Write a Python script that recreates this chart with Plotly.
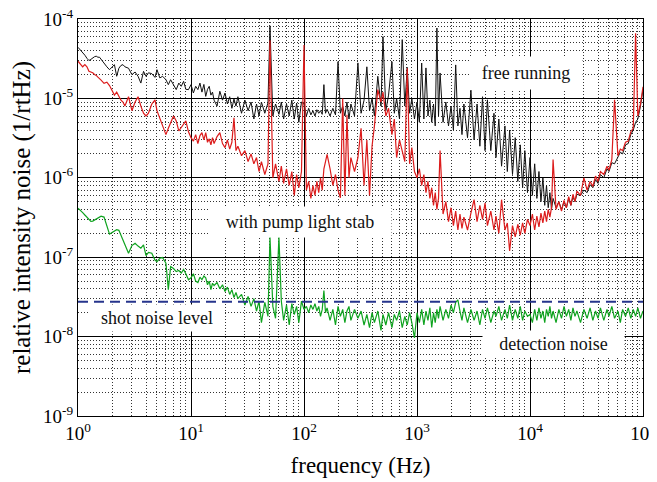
import numpy as np
import plotly.graph_objects as go

# sampling frequencies (Hz)
freq_hz = [
    1, 1.05, 1.1, 1.15, 1.2, 1.25, 1.3, 1.35, 1.4, 1.45, 1.5, 1.55, 1.6, 1.7, 1.8, 1.9, 2, 2.1, 2.2, 2.3, 2.4, 2.5, 2.6, 2.8, 3, 3.2, 3.4, 3.6, 3.8, 4, 4.2, 4.5, 4.8, 5, 5.3, 5.6, 6, 6.3, 6.6, 7, 7.4, 7.8, 8.2, 8.6, 9, 9.5,
    10, 10.5, 11, 11.5, 12, 12.5, 13, 13.5, 14, 14.5, 15, 15.5, 16, 17, 18, 19, 20, 21, 22, 23, 24, 25, 26, 28, 30, 32, 34, 36, 38, 40, 42, 45, 48, 50, 53, 56, 60, 63, 66, 70, 74, 78, 82, 86, 90, 95,
    100, 105, 110, 115, 120, 125, 130, 135, 140, 145, 150, 155, 160, 170, 180, 190, 200, 210, 220, 230, 240, 250, 260, 280, 300, 320, 340, 360, 380, 400, 420, 450, 480, 500, 530, 560, 600, 630, 660, 700, 740, 780, 820, 860, 900, 950,
    1000, 1050, 1100, 1150, 1200, 1250, 1300, 1350, 1400, 1450, 1500, 1550, 1600, 1700, 1800, 1900, 2000, 2100, 2200, 2300, 2400, 2500, 2600, 2800, 3000, 3200, 3400, 3600, 3800, 4000, 4200, 4500, 4800, 5000, 5300, 5600, 6000, 6300, 6600, 7000, 7400, 7800, 8200, 8600, 9000, 9500,
    10000, 10500, 11000, 11500, 12000, 12500, 13000, 13500, 14000, 14500, 15000, 15500, 16000, 17000, 18000, 19000, 20000, 21000, 22000, 23000, 24000, 25000, 26000, 28000, 30000, 32000, 34000, 36000, 38000, 40000, 42000, 45000, 48000, 50000, 53000, 56000, 60000, 63000, 66000, 70000, 74000, 78000, 82000, 86000, 90000, 95000,
    100000,
]

# free running RIN, in units of 1e-6 /rtHz
free_running_u = [
    44, 41, 38, 35, 32, 30, 31, 32.5, 33.5, 34, 33, 33, 31, 28, 25, 23, 24.5, 26.6, 19, 24, 26, 26.6, 25, 24, 19.9, 21.5, 19, 15.6, 21.9, 19, 21, 20.5, 18.4, 23, 18.1, 19, 17.2, 14.9, 17.2, 15, 12.9, 15.6, 14.2, 16.4, 13, 12.9,
    14.9, 11.7, 14.2, 12.9, 15.6, 12, 15, 10.6, 13, 14.2, 11, 12, 9.5, 8, 12.3, 9.5, 11.7, 8.5, 10.5, 7.5, 9.8, 8, 10.5, 6.5, 9.5, 7, 9, 5.5, 8.5, 6, 9, 6.5, 8.8, 82, 6, 8.5, 6.3, 9, 5.5, 8.5, 6, 9.5, 5.5, 8.7, 5, 9,
    8.5, 6, 7.5, 6.2, 7, 6, 7.2, 6.5, 7, 6.3, 14.9, 6.5, 7.3, 6, 7.5, 6.2, 29, 6.5, 8, 6, 9, 5.5, 8.5, 6, 28, 6.5, 9.5, 25, 7, 10, 6, 19, 8, 60, 7, 11, 29, 6.5, 10, 5.5, 55, 8, 24.6, 6.5, 10, 5.5,
    9, 5, 27.9, 5.5, 24.2, 6, 9.5, 5, 8.5, 4.5, 77, 6, 20.9, 5, 9, 4.5, 8, 4, 26.4, 4.5, 7.5, 3.5, 8.5, 3.2, 12.7, 3, 8.5, 2.5, 10.5, 2.2, 9.6, 2.2, 6.5, 1.8, 5.5, 1.4, 4.5, 1.2, 4, 1.1, 3.2, 0.9, 2.6, 0.75, 2.2, 0.65,
    1.8, 0.6, 1.5, 0.55, 1.2, 0.5, 1, 0.45, 0.8, 0.42, 0.65, 0.4, 0.55, 0.42, 0.5, 0.4, 0.5, 0.42, 0.55, 0.45, 0.58, 0.5, 0.62, 0.6, 0.7, 0.65, 0.82, 0.75, 0.95, 0.85, 1.1, 1, 1.3, 1.2, 1.55, 1.5, 1.8, 2.1, 2, 2.6, 2.7, 3.5, 4, 5, 5.5, 8,
    13,
]

# with pump light stabilisation, in units of 1e-6 /rtHz
pump_stab_u = [
    29.4, 27, 25, 26.6, 25, 22, 21.5, 21, 20, 19.5, 18.5, 17.5, 17, 15.5, 16, 14.5, 12.5, 11, 12, 10.5, 9.5, 9, 8, 10.5, 7, 9, 10.5, 8, 6.5, 6, 6.5, 8.5, 9.6, 7, 5.5, 4.5, 3.5, 4.2, 5, 6, 5.2, 3.9, 4.3, 4.8, 5.2, 3.8,
    3.2, 2.9, 3.5, 2.7, 3.4, 3.7, 3, 3.7, 2.8, 3.1, 2.6, 3.2, 2.7, 3.3, 3.7, 2.7, 2.4, 3, 2.3, 2.8, 5.7, 2.2, 2.5, 1.9, 2.2, 1.6, 2, 1.5, 1.8, 1.2, 1.6, 1.1, 1.5, 54, 1, 1.5, 0.9, 1.4, 0.85, 1.3, 0.8, 1.2, 0.6, 1.1, 0.75, 1.2,
    47, 0.7, 0.9, 0.55, 0.8, 0.6, 0.9, 0.65, 1, 0.7, 1.3, 1.6, 1.97, 1.3, 0.8, 1.1, 0.7, 0.56, 10, 0.6, 6.2, 1, 1.8, 1.2, 1.8, 4.2, 0.8, 3, 0.6, 2.5, 4.5, 12.9, 9, 12, 6, 7.5, 3.5, 5.5, 1.8, 3, 2.2, 1.6, 24, 1.5, 2.4, 1.2,
    1, 1.3, 0.8, 1.1, 0.65, 0.9, 0.55, 0.75, 0.45, 0.65, 0.4, 0.55, 2.2, 0.35, 0.5, 0.28, 0.42, 0.25, 0.38, 0.22, 0.35, 0.23, 0.32, 0.22, 0.36, 0.53, 0.28, 0.45, 0.3, 0.48, 0.25, 0.38, 0.22, 0.33, 0.2, 0.53, 0.22, 0.27, 0.12, 0.25, 0.18, 0.26, 0.19, 0.27, 0.2, 0.3,
    0.25, 0.35, 0.22, 0.33, 0.24, 0.36, 0.27, 0.38, 0.28, 0.4, 0.32, 0.42, 1.7, 0.4, 0.5, 0.38, 0.52, 0.42, 0.58, 0.45, 0.62, 0.5, 0.68, 0.6, 1, 0.7, 0.9, 0.78, 1.05, 0.9, 1.2, 1.1, 1.4, 1.25, 1.7, 9.6, 1.9, 2.3, 2.2, 2.8, 2.9, 3.8, 4.2, 66, 6, 8.5,
    14,
]

# detection noise, in units of 1e-9 /rtHz
detection_n = [
    413, 390, 365, 340, 320, 300, 282, 285, 295, 305, 315, 322, 328, 320, 250, 195, 205, 215, 222, 218, 190, 165, 140, 112, 140, 150, 138, 130, 143, 105, 115, 112, 92, 88, 97, 99, 84, 39, 76, 72, 66, 68, 63, 70, 62, 52,
    55, 62, 50, 48, 56, 52, 58, 55, 45, 50, 39, 47, 44, 48, 40, 45, 37, 42, 34, 39, 31, 36, 30, 34, 25, 32, 24, 30, 21, 28, 15, 27, 18, 180, 24, 17, 180, 28, 16, 25, 14, 26, 19, 24, 15, 28,
    22, 24, 20, 25, 22, 26, 21, 24, 18, 22, 38, 20, 23, 16, 22, 14, 24, 18, 22, 15, 21, 24, 16, 22, 17, 21, 14, 19, 13, 20, 15, 21, 12, 19, 14, 20, 13, 19, 16, 21, 13, 18, 14, 20, 15, 9.6,
    20, 15, 22, 14, 21, 16, 23, 13, 20, 15, 22, 17, 24, 16, 22, 17, 25, 20, 27, 29, 21, 16, 23, 15, 22, 16, 21, 14, 22, 17, 23, 15, 21, 18, 24, 16, 22, 17, 25, 16, 22, 17, 24, 16, 21, 18,
    19, 15, 22, 16, 23, 17, 21, 15, 22, 18, 24, 17, 21, 15, 22, 17, 24, 18, 22, 16, 23, 18, 21, 15, 22, 17, 23, 16, 21, 17, 23, 16, 22, 18, 24, 17, 21, 15, 22, 18, 23, 17, 22, 18, 23, 17,
    21,
]

shot_noise_level = 2.75e-8

x_tick_vals = [1, 10, 100, 1000, 10000, 100000]
x_tick_text = ["10<sup>0</sup>", "10<sup>1</sup>", "10<sup>2</sup>", "10<sup>3</sup>", "10<sup>4</sup>", "10<sup>5</sup>"]
y_tick_vals = [1e-9, 1e-8, 1e-7, 1e-6, 1e-5, 1e-4]
y_tick_text = ["10<sup>-9</sup>", "10<sup>-8</sup>", "10<sup>-7</sup>", "10<sup>-6</sup>", "10<sup>-5</sup>", "10<sup>-4</sup>"]

free_running = np.array(free_running_u) * 1e-6
pump_stab = np.array(pump_stab_u) * 1e-6
detection = np.array(detection_n) * 1e-9

minor_x = [m * d for d in [1, 10, 100, 1000, 10000] for m in range(2, 10)]
minor_y = [m * d for d in [1e-9, 1e-8, 1e-7, 1e-6, 1e-5] for m in range(2, 10)]

SERIF = "Liberation Serif, Times New Roman, Times, DejaVu Serif, serif"

fig = go.Figure()
fig.add_trace(go.Scatter(x=freq_hz, y=free_running, mode="lines",
                         line=dict(color="#111111", width=1), name="free running"))
fig.add_trace(go.Scatter(x=freq_hz, y=pump_stab, mode="lines",
                         line=dict(color="#dc1c1c", width=1.2), name="with pump light stab"))
fig.add_trace(go.Scatter(x=freq_hz, y=detection, mode="lines",
                         line=dict(color="#0fa31f", width=1.2), name="detection noise"))
fig.add_trace(go.Scatter(x=[freq_hz[0], freq_hz[-1]], y=[shot_noise_level, shot_noise_level], mode="lines",
                         line=dict(color="#26348c", width=2, dash="10px,6px"), name="shot noise level"))

labels = [
    ("free running", 9200, 2.1e-5, 112, 32),
    ("with pump light stab", 92, 2.8e-7, 182, 30),
    ("shot noise level", 5, 1.7e-8, 134, 26),
    ("detection noise", 16000, 8.1e-9, 141, 26),
]
for txt, fx, fy, w, h in labels:
    fig.add_annotation(x=np.log10(fx), y=np.log10(fy), xref="x", yref="y", text=txt,
                       showarrow=False, bgcolor="white", width=w, height=h, borderpad=0,
                       font=dict(family=SERIF, size=18, color="#111111"))

axis_common = dict(
    type="log", showline=True, mirror=True, linecolor="black", linewidth=1,
    showgrid=True, gridcolor="black", gridwidth=1, ticks="", zeroline=False,
    tickfont=dict(family=SERIF, size=19, color="black"), tickmode="array",
    automargin=False, ticklabeloverflow="allow",
)
fig.update_xaxes(**axis_common, range=[0, 5], tickvals=x_tick_vals, ticktext=x_tick_text,
                 minor=dict(tickmode="array", tickvals=minor_x, showgrid=True, gridcolor="#333333",
                            gridwidth=1, griddash="1px,2px", ticks=""),
                 title=dict(text="frequency (Hz)", font=dict(family=SERIF, size=23, color="black"), standoff=14))
fig.update_yaxes(**axis_common, range=[-9, -4], tickvals=y_tick_vals, ticktext=y_tick_text,
                 minor=dict(tickmode="array", tickvals=minor_y, showgrid=True, gridcolor="#333333",
                            gridwidth=1, griddash="1px,2px", ticks=""),
                 title=dict(text="relative intensity noise (1/rtHz)", font=dict(family=SERIF, size=25, color="black"), standoff=6))

# the page body adds an 8 px margin, so the figure is sized to fill the rest of the window
fig.update_layout(width=649, height=474, margin=dict(l=70, r=14, t=11, b=66),
                  paper_bgcolor="white", plot_bgcolor="white", showlegend=False,
                  font=dict(family=SERIF))

fig.write_html("out.html")
